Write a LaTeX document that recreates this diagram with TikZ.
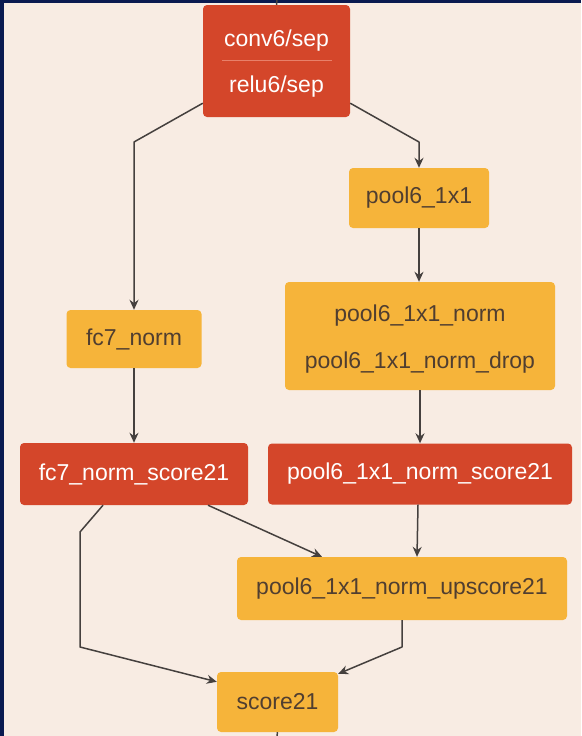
\documentclass[tikz,border=0pt]{standalone}
\usepackage{fontspec}
\setmainfont{Liberation Sans}
\usetikzlibrary{arrows.meta}
\definecolor{bgcream}{HTML}{F8ECE3}
\definecolor{navy}{HTML}{0A1A50}
\definecolor{opred}{HTML}{D4462A}
\definecolor{oporange}{HTML}{F6B43A}
\definecolor{sepline}{HTML}{E8806A}
\definecolor{darktext}{HTML}{503E30}
\definecolor{edgegray}{HTML}{45403E}
\tikzset{
  opbox/.style={rectangle, rounded corners=4pt, inner sep=0pt, font=\fontsize{23}{27}\selectfont},
  redop/.style={opbox, fill=opred, text=white},
  orangeop/.style={opbox, fill=oporange, text=darktext},
  label/.style={inner sep=0pt, font=\fontsize{23}{27}\selectfont},
  edge/.style={draw=edgegray, line width=1.5pt, line join=round,
    -{Stealth[length=10pt,width=9pt]}},
  stub/.style={draw=edgegray, line width=1.5pt},
}
\begin{document}
\begin{tikzpicture}[x=1pt,y=-1pt]
  % canvas and frame
  \fill[bgcream] (0,0) rectangle (581,736);
  \fill[navy] (0,0) rectangle (4,736);
  \fill[navy] (0,0) rectangle (581,3);
  \useasboundingbox (0,0) rectangle (581,736);

  % operation boxes
  \node[redop, minimum width=147pt, minimum height=112pt] (convbox) at (276.5,61) {};
  \draw[sepline, line width=1pt] (222,60) -- (332,60);
  \node[label, text=white] (conv) at (276.5,41) {conv6/sep};
  \node[label, text=white] (relu) at (276.5,87) {relu6/sep};

  \node[orangeop, minimum width=140pt, minimum height=60pt] (pool) at (419,198) {pool6\_1x1};

  \node[orangeop, minimum width=270pt, minimum height=108pt] (normbox) at (420,336) {};
  \node[label, text=darktext] (norm) at (420,316) {pool6\_1x1\_norm};
  \node[label, text=darktext] (drop) at (420,363) {pool6\_1x1\_norm\_drop};

  \node[orangeop, minimum width=135pt, minimum height=58pt] (fcnorm) at (134,339) {fc7\_norm};

  \node[redop, minimum width=228pt, minimum height=62pt] (fcscore) at (134,474) {fc7\_norm\_score21};
  \node[redop, minimum width=304pt, minimum height=61pt] (poolscore) at (420,474) {pool6\_1x1\_norm\_score21};

  \node[orangeop, minimum width=330pt, minimum height=63pt] (upscore) at (402,588.5) {pool6\_1x1\_norm\_upscore21};

  \node[orangeop, minimum width=121pt, minimum height=60pt] (score) at (277.5,702) {score21};

  % loose ends leaving the frame
  \coordinate (topend) at (277,0);
  \coordinate (bottomend) at (277,736);
  \draw[stub] (convbox.north) -- (topend);
  \draw[stub] (score.south) -- (bottomend);

  % data flow
  \draw[edge] ([yshift=14pt]convbox.south west) -- (134,142) -- (fcnorm.north);
  \draw[edge] ([yshift=14pt]convbox.south east) -- (419,142) -- (pool.north);
  \draw[edge] (pool.south) -- (pool.south |- normbox.north);
  \draw[edge] (fcnorm.south) -- (fcscore.north);
  \draw[edge] (normbox.south) -- (poolscore.north);
  \draw[edge] ([xshift=74pt]fcscore.south) -- ([xshift=-80pt]upscore.north);
  \draw[edge] ([xshift=-2pt]poolscore.south) -- ([xshift=15pt]upscore.north);
  \draw[edge] ([xshift=-31pt]fcscore.south) -- (80,532) -- (80,647) -- ([yshift=-10pt]score.north west);
  \draw[edge] (upscore.south) -- (402,647) -- ([yshift=-2pt]score.north east);
\end{tikzpicture}
\end{document}
